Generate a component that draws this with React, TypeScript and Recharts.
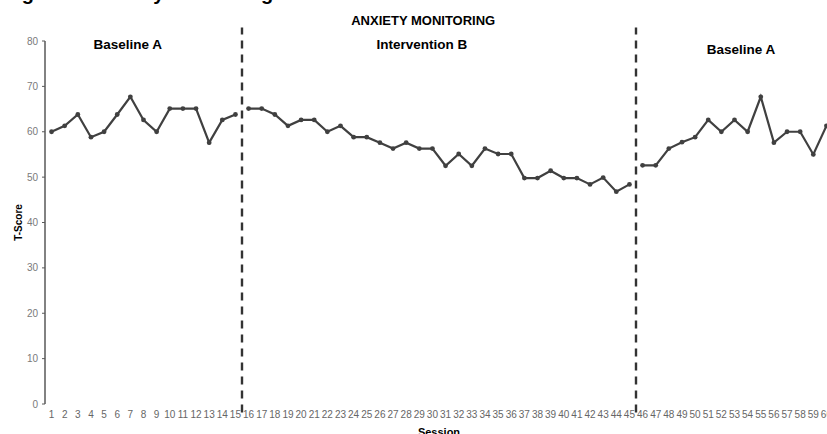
import React from 'react';
import { LineChart, Line, XAxis, YAxis, ReferenceLine, ReferenceDot } from 'recharts';

// session numbers and T-scores
const sessions = [
  1, 2, 3, 4, 5, 6, 7, 8, 9, 10, 11, 12, 13, 14, 15, 16, 17, 18, 19, 20,
  21, 22, 23, 24, 25, 26, 27, 28, 29, 30, 31, 32, 33, 34, 35, 36, 37, 38, 39, 40,
  41, 42, 43, 44, 45, 46, 47, 48, 49, 50, 51, 52, 53, 54, 55, 56, 57, 58, 59, 60,
];
const tScores = [
  60, 61.3, 63.8, 58.8, 60, 63.8, 67.7, 62.6, 60, 65.1, 65.1, 65.1, 57.6, 62.6, 63.8,
  65.1, 65.1, 63.8, 61.3, 62.6, 62.6, 60, 61.3, 58.8, 58.8, 57.6, 56.3, 57.6, 56.3, 56.3,
  52.5, 55.1, 52.5, 56.3, 55.1, 55.1, 49.8, 49.8, 51.4, 49.8, 49.8, 48.4, 49.9, 46.8, 48.4,
  52.6, 52.6, 56.3, 57.7, 58.8, 62.6, 60, 62.6, 60, 67.7, 57.6, 60, 60, 55.0, 61.3,
];
const yTicks = [0, 10, 20, 30, 40, 50, 60, 70, 80];
const phaseBreaks = [15.5, 45.5];
const phaseNames = ['Baseline A', 'Intervention B', 'Baseline A'];
const phaseKeys = ['baseA1', 'interventionB', 'baseA2'];

// one column per phase so the line breaks at each phase change
const data = sessions.map((s, i) => {
  const phase = phaseBreaks.filter((b) => s > b).length;
  const row: Record<string, number | null> = { session: s };
  phaseKeys.forEach((k, p) => {
    row[k] = p === phase ? tScores[i] : null;
  });
  return row;
});
// tick marks sit between sessions, like Excel's category axis
const edgeTicks = [0.5, ...sessions.map((s) => s + 0.5)];

const sans = '"Liberation Sans", Arial, sans-serif';
const lineColor = '#404040';
const axisColor = '#595959';

const phaseSpots = [
  { x: 6.8, y: 79.2 },
  { x: 29.2, y: 79.2 },
  { x: 53.5, y: 78.1 },
];

export default function App() {
  return (
    <div
      style={{
        position: 'absolute',
        left: 0,
        top: 0,
        width: 827,
        height: 434,
        overflow: 'hidden',
        background: '#fff',
      }}
    >
      {/* bottom of the figure caption, cut off by the crop */}
      <svg width={827} height={10} style={{ position: 'absolute', left: 0, top: 0 }}>
        <text x={4} y={0} fontFamily={sans} fontWeight={700} fontSize={20} fill="#000">
          Figure 2. Anxiety Monitoring
        </text>
      </svg>
      <LineChart
        width={833}
        height={434}
        data={data}
        margin={{ top: 41, right: 0, bottom: 0, left: 0 }}
      >
        <XAxis
          xAxisId="edges"
          dataKey="session"
          type="number"
          domain={[0.5, 60.5]}
          ticks={edgeTicks}
          interval={0}
          height={0}
          tickSize={4}
          tickFormatter={() => ''}
          axisLine={{ stroke: axisColor, strokeWidth: 1.5 }}
          tickLine={{ stroke: axisColor, strokeWidth: 1.2 }}
        />
        <XAxis
          xAxisId="main"
          dataKey="session"
          type="number"
          domain={[0.5, 60.5]}
          ticks={sessions}
          interval={0}
          height={30}
          tickSize={0}
          tickMargin={7}
          axisLine={false}
          tickLine={false}
          tick={{ fontSize: 10, fill: '#666', fontFamily: sans }}
          label={{
            value: 'Session',
            position: 'insideBottom',
            offset: -2,
            fontSize: 11,
            fontWeight: 700,
            fill: '#000',
            fontFamily: sans,
          }}
        />
        <YAxis
          width={45}
          domain={[0, 80]}
          ticks={yTicks}
          interval={0}
          tickSize={3}
          tickMargin={4}
          axisLine={{ stroke: axisColor, strokeWidth: 1.5 }}
          tickLine={{ stroke: axisColor }}
          tick={{ fontSize: 10, fill: '#7a7a7a', fontFamily: sans }}
          label={{
            value: 'T-Score',
            angle: -90,
            position: 'center',
            dx: -4.5,
            fontSize: 10,
            fontWeight: 700,
            fill: '#000',
            fontFamily: sans,
          }}
        />
        {phaseBreaks.map((b) => (
          <ReferenceLine
            key={b}
            xAxisId="main"
            segment={[
              { x: b, y: -1.9 },
              { x: b, y: 83 },
            ]}
            ifOverflow="visible"
            stroke="#333"
            strokeWidth={2.4}
            strokeDasharray="8 6"
          />
        ))}
        <ReferenceDot
          xAxisId="main"
          x={29.3}
          y={84.5}
          r={0}
          ifOverflow="visible"
          label={{
            value: 'ANXIETY MONITORING',
            position: 'center',
            fontSize: 13,
            fontWeight: 700,
            fill: '#000',
            fontFamily: sans,
          }}
        />
        {phaseNames.map((name, i) => (
          <ReferenceDot
            key={i}
            xAxisId="main"
            x={phaseSpots[i].x}
            y={phaseSpots[i].y}
            r={0}
            ifOverflow="visible"
            label={{
              value: name,
              position: 'center',
              fontSize: 13.5,
              fontWeight: 700,
              fill: '#000',
              fontFamily: sans,
            }}
          />
        ))}
        {phaseKeys.map((k) => (
          <Line
            key={k}
            xAxisId="main"
            type="linear"
            dataKey={k}
            stroke={lineColor}
            strokeWidth={2.2}
            connectNulls={false}
            dot={{ r: 2.4, fill: lineColor, stroke: lineColor, strokeWidth: 0 }}
            activeDot={false}
            isAnimationActive={false}
          />
        ))}
      </LineChart>
    </div>
  );
}
